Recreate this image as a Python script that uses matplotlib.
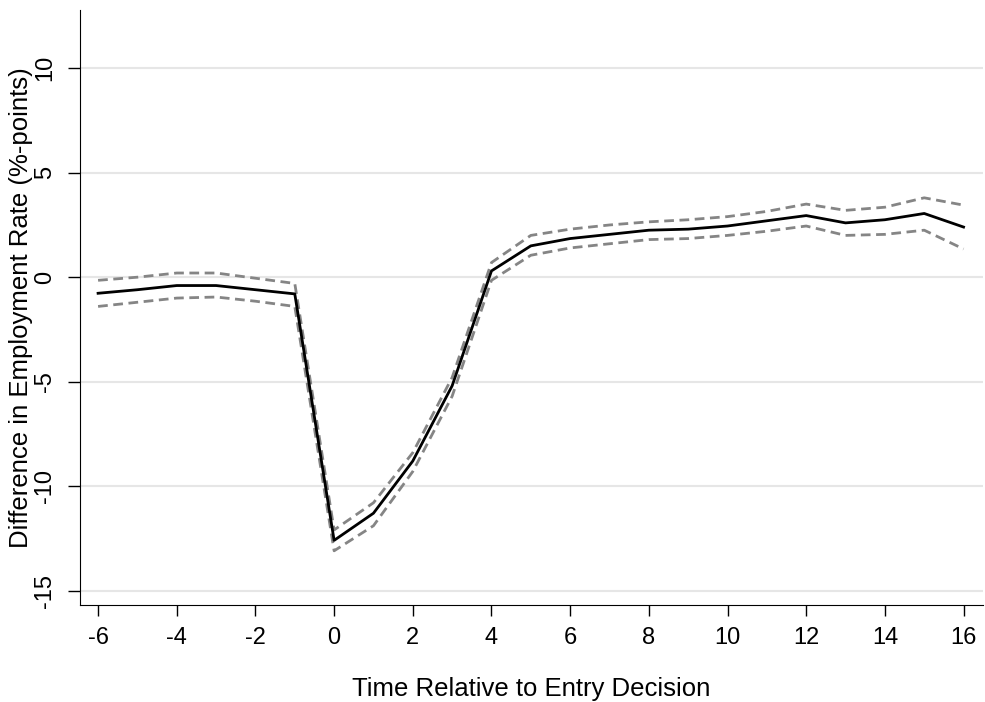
import matplotlib
matplotlib.use("Agg")
import matplotlib.pyplot as plt

plt.rcParams['font.family'] = ['Liberation Sans', 'DejaVu Sans']
plt.rcParams['axes.unicode_minus'] = False

# event time relative to entry decision
t = [-6, -5, -4, -3, -2, -1, 0, 1, 2, 3, 4, 5, 6, 7, 8, 9, 10, 11, 12, 13, 14, 15, 16]
est = [-0.77, -0.6, -0.4, -0.4, -0.6, -0.8, -12.6, -11.3, -8.8, -5.2, 0.3, 1.5, 1.85, 2.05,
       2.25, 2.3, 2.45, 2.7, 2.95, 2.6, 2.75, 3.05, 2.4]
ci_hi = [-0.15, 0.0, 0.2, 0.2, -0.05, -0.3, -12.1, -10.8, -8.4, -4.8, 0.7, 2.0, 2.3, 2.5,
         2.65, 2.75, 2.9, 3.15, 3.5, 3.2, 3.35, 3.8, 3.45]
ci_lo = [-1.4, -1.2, -1.0, -0.95, -1.15, -1.4, -13.1, -11.9, -9.3, -5.7, -0.15, 1.05, 1.4, 1.6,
         1.8, 1.85, 2.0, 2.2, 2.45, 2.0, 2.05, 2.25, 1.35]

xticks = list(range(-6, 17, 2))
yticks = [-15, -10, -5, 0, 5, 10]

fig = plt.figure(figsize=(9.85, 7.02), dpi=100)
ax = fig.add_axes([0.0812, 0.138, 0.917, 0.848])

ax.plot(t, ci_hi, color="#858585", lw=2, ls=(0, (3.5, 2)))
ax.plot(t, ci_lo, color="#858585", lw=2, ls=(0, (3.5, 2)))
ax.plot(t, est, color="black", lw=2)

ax.set_xlim(-6.46, 16.5)
ax.set_ylim(-15.7, 12.8)
ax.set_xticks(xticks)
ax.set_yticks(yticks)
ax.set_yticklabels([str(v) for v in yticks], rotation=90, va="center")
ax.yaxis.grid(True, color="#e6e6e6", lw=1.5)
ax.set_axisbelow(True)
ax.spines["top"].set_visible(False)
ax.spines["right"].set_visible(False)
ax.tick_params(labelsize=17, length=8, width=1)
ax.tick_params(axis="x", pad=8)
ax.tick_params(axis="y", length=9, pad=8)

ax.set_xlabel("Time Relative to Entry Decision", fontsize=18.5, labelpad=20)
ax.set_ylabel("Difference in Employment Rate (%-points)", fontsize=18.5)
ax.yaxis.set_label_coords(-0.052, 0.5)

fig.savefig("out.png", dpi=100)
